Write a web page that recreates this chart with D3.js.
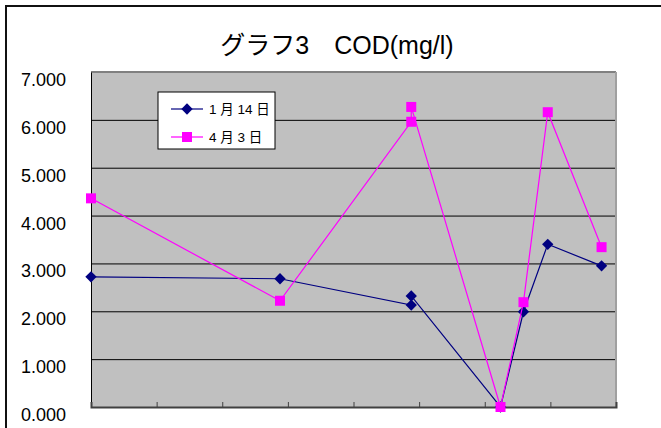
<!DOCTYPE html>
<html>
<head>
<meta charset="utf-8">
<script src="https://cdn.jsdelivr.net/npm/d3@7"></script>
<style>
  body { margin: 0; background: #fff; }
  svg { display: block; }
  text { font-family: "Liberation Sans", Arial, "Noto Sans CJK JP", sans-serif; fill: #000; }
</style>
</head>
<body>
<svg id="chart"></svg>
<script>
// station positions along the x axis (no labels in the original)
const stations = [0, 2.88, 4.88, 4.88, 6.24, 6.59, 6.96, 7.78];
const jan14 = [2.72, 2.68, 2.13, 2.32, 0, 1.99, 3.40, 2.95];
const apr3 = [4.36, 2.22, 5.96, 6.27, 0, 2.19, 6.16, 3.34];
const seriesNames = ["1 月 14 日", "4 月 3 日"];
const yTicks = [0, 1, 2, 3, 4, 5, 6, 7];
const xTicks = [0, 1, 2, 3, 4, 5, 6, 7, 8];
const title = "グラフ3　COD(mg/l)";

const W = 661, H = 428;
const margin = { top: 72, right: 45, bottom: 21, left: 91 };
const width = W - margin.left - margin.right;
const height = H - margin.top - margin.bottom;

const svg = d3.select("#chart").attr("width", W).attr("height", H);

// outer chart frame (runs off the picture on right and bottom)
svg.append("rect")
  .attr("x", 6).attr("y", 6).attr("width", 720).attr("height", 500)
  .attr("fill", "#fff").attr("stroke", "#111").attr("stroke-width", 2);

svg.append("text")
  .attr("x", 337).attr("y", 54)
  .attr("text-anchor", "middle")
  .style("font-size", "25px")
  .text(title);

const g = svg.append("g").attr("transform", `translate(${margin.left},${margin.top})`);

const x = d3.scaleLinear().domain([0, 8]).range([0, width]);
const y = d3.scaleLinear().domain([0, 7]).range([height, 0]);

// plot area
g.append("rect").attr("width", width).attr("height", height).attr("fill", "#c0c0c0");

// gridlines
g.append("g")
  .call(d3.axisLeft(y).tickValues(yTicks).tickSize(-width).tickFormat(""))
  .call(s => s.select(".domain").remove())
  .selectAll("line").attr("stroke", "#000").attr("stroke-width", 1);

// plot border: top/right grey
g.append("line").attr("x1", 0).attr("x2", width).attr("y1", 0).attr("y2", 0)
  .attr("stroke", "#808080").attr("stroke-width", 2);
g.append("line").attr("x1", width).attr("x2", width).attr("y1", 0).attr("y2", height)
  .attr("stroke", "#a0a0a0").attr("stroke-width", 2);

// y axis labels
g.append("g")
  .call(d3.axisLeft(y).tickValues(yTicks).tickSize(0).tickPadding(25).tickFormat(d3.format(".3f")))
  .call(s => s.select(".domain").attr("stroke", "#000"))
  .selectAll("text")
  .style("font-size", "18px")
  .attr("dy", "0.75em");

// x axis with inside ticks
g.append("g")
  .attr("transform", `translate(0,${height})`)
  .call(d3.axisBottom(x).tickValues(xTicks).tickSize(-5).tickFormat(""))
  .call(s => s.select(".domain").attr("stroke", "#404040").attr("stroke-width", 2))
  .selectAll("line").attr("stroke", "#404040");

const series = [
  { name: seriesNames[0], values: jan14, color: "#000080", size: 64, rotate: 45 },
  { name: seriesNames[1], values: apr3, color: "#ff00ff", size: 100, rotate: 0 }
];

const line = d3.line().x(d => x(d[0])).y(d => y(d[1]));

series.forEach(s => {
  const pts = stations.map((st, i) => [st, s.values[i]]);
  g.append("path").datum(pts)
    .attr("fill", "none").attr("stroke", s.color).attr("stroke-width", 1.2)
    .attr("d", line);
  g.selectAll(null).data(pts).enter().append("path")
    .attr("transform", d => `translate(${x(d[0])},${y(d[1])}) rotate(${s.rotate})`)
    .attr("d", d3.symbol().type(d3.symbolSquare).size(s.size))
    .attr("fill", s.color);
});

// legend
const legend = svg.append("g").attr("transform", "translate(158,92)");
legend.append("rect").attr("width", 117).attr("height", 57)
  .attr("fill", "#fff").attr("stroke", "#000").attr("stroke-width", 1);
series.forEach((s, i) => {
  const ly = 17 + i * 28;
  legend.append("line").attr("x1", 13).attr("x2", 45).attr("y1", ly).attr("y2", ly)
    .attr("stroke", s.color).attr("stroke-width", 1.2);
  legend.append("path")
    .attr("transform", `translate(29,${ly}) rotate(${s.rotate})`)
    .attr("d", d3.symbol().type(d3.symbolSquare).size(s.size))
    .attr("fill", s.color);
  legend.append("text").attr("x", 51).attr("y", ly + 5)
    .style("font-size", "13.5px")
    .text(s.name);
});
</script>
</body>
</html>
